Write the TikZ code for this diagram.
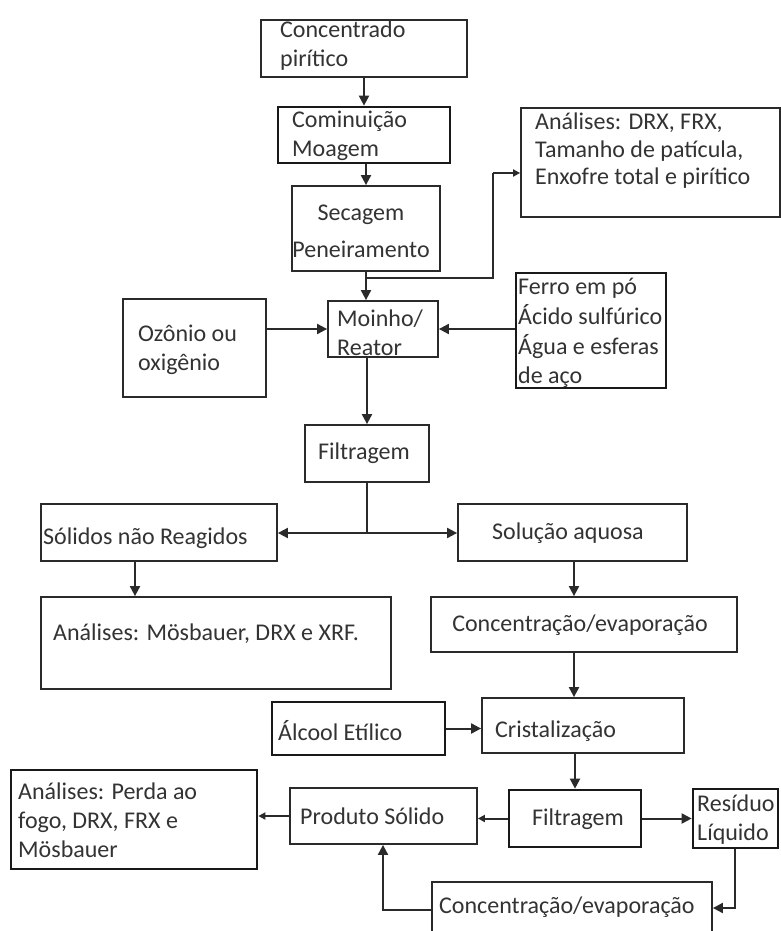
\documentclass[tikz,border=0pt]{standalone}
\usepackage{fontspec}
\setmainfont{Carlito}
\usetikzlibrary{calc,arrows.meta}
\definecolor{txtgray}{HTML}{333333}
\definecolor{linegray}{HTML}{2A2A2A}
\tikzset{
  box/.style={draw=linegray, line width=1.8pt, rectangle, inner sep=0pt},
  thickbox/.style={box, line width=2.7pt, draw=black!90},
  txt/.style={align=left, inner sep=0pt, text=txtgray, font=\fontsize{24}{29}\selectfont},
  ctxt/.style={txt, align=center},
  conn/.style={draw=linegray, line width=2pt},
  arr/.style={conn, -{Triangle[length=10pt,width=10pt]}},
  sarr/.style={conn, -{Triangle[length=7pt,width=7pt]}},
}
\begin{document}
\begin{tikzpicture}[x=1pt,y=-1pt]
\useasboundingbox (0,0) rectangle (781,931);
\clip (0,0) rectangle (781,931);
\fill[white] (0,0) rectangle (781,931);

% boxes
\node[box, minimum width=206pt, minimum height=57pt] (c1) at (364,48.5) {};
\node[thickbox, minimum width=172pt, minimum height=56pt] (c2) at (364,135) {};
\node[box, minimum width=148pt, minimum height=85pt] (c3) at (366,228.5) {};
\node[box, minimum width=259pt, minimum height=109pt] (c4) at (650.5,162.5) {};
\node[box, minimum width=110pt, minimum height=56pt] (c5) at (383,329) {};
\node[box, minimum width=143pt, minimum height=98pt] (c6) at (194.5,348) {};
\node[thickbox, minimum width=150pt, minimum height=115pt] (c7) at (591,330.5) {};
\node[box, minimum width=124pt, minimum height=57pt] (c8) at (367,453.5) {};
\node[box, minimum width=236pt, minimum height=57pt] (c9) at (159,532.5) {};
\node[box, minimum width=350pt, minimum height=92pt] (c10) at (216,643) {};
\node[box, minimum width=229pt, minimum height=57pt] (c11) at (572.5,532.5) {};
\node[box, minimum width=306pt, minimum height=55pt] (c12) at (584,624.5) {};
\node[box, minimum width=202pt, minimum height=55pt] (c13) at (583,725.5) {};
\node[thickbox, minimum width=173pt, minimum height=53pt] (c14) at (358.5,728.5) {};
\node[thickbox, minimum width=132pt, minimum height=57pt] (c15) at (575,818.5) {};
\node[thickbox, minimum width=85pt, minimum height=59pt] (c16) at (735.5,818.5) {};
\node[box, minimum width=187pt, minimum height=56pt] (c17) at (383.5,816) {};
\node[thickbox, minimum width=246pt, minimum height=99pt] (c18) at (134,819.5) {};
\node[box, minimum width=280pt, minimum height=78pt] (c19) at (572,921) {};

% texts
\node[txt, anchor=west] (t1) at (280,46) {Concentrado\\pirítico};
\node[txt, anchor=west] (t2) at (292,136) {Cominuição\\Moagem};
\node[ctxt] (t3) at (361,231) {Secagem\\[8pt]Peneiramento};
\node[txt, anchor=west, font=\fontsize{24}{27.5}\selectfont] (t4) at (535,151) {Análises: DRX, FRX,\\Tamanho de patícula,\\Enxofre total e pirítico};
\node[txt, anchor=west] (t5) at (337,333) {Moinho/\\Reator};
\node[txt, anchor=west] (t6) at (138,350) {Ozônio ou\\oxigênio};
\node[txt, anchor=west, font=\fontsize{24}{29.7}\selectfont] (t7) at (518,333) {Ferro em pó\\Ácido sulfúrico\\Água e esferas\\de aço};
\node[ctxt] (t8) at (364,453) {Filtragem};
\node[txt, anchor=west] (t9) at (43,538) {Sólidos não Reagidos};
\node[txt, anchor=west] (t10) at (53,634) {Análises: Mösbauer, DRX e XRF.};
\node[ctxt] (t11) at (568,533) {Solução aquosa};
\node[ctxt] (t12) at (580,625) {Concentração/evaporação};
\node[txt, anchor=west] (t13) at (495,731) {Cristalização};
\node[txt, anchor=west] (t14) at (278,731) {Álcool Etílico};
\node[ctxt] (t15) at (578,819) {Filtragem};
\node[txt, anchor=west] (t16) at (697,820) {Resíduo\\Líquido};
\node[txt, anchor=west] (t17) at (300,816) {Produto Sólido};
\node[txt, anchor=west] (t18) at (18,820) {Análises: Perda ao\\fogo, DRX, FRX e\\Mösbauer};
\node[txt, anchor=west] (t19) at (439,907) {Concentração/evaporação};

% junction coordinates
\coordinate (j1) at (366,278);
\coordinate (j2) at (493,278);
\coordinate (j3) at (493,173);
\coordinate (j4) at (367,533);
\coordinate (j5) at (135,0);
\coordinate (j6) at (574,0);
\coordinate (j7) at (735,908);
\coordinate (j8) at (383,910);

% connectors
\draw[arr] (c1.south) -- (c2.north);
\draw[arr] (c3.north |- c2.south) -- (c3.north);
\draw[arr] (c3.south) -- (c3.south |- c5.north);
\draw[conn] (j1) -- (j2) -- (j3);
\draw[sarr] (j3) -- (j3 -| c4.west);
\draw[arr] (c6.east |- c5.west) -- (c5.west);
\draw[arr] (c7.west |- c5.east) -- (c5.east);
\draw[arr] (c8.north |- c5.south) -- (c8.north);
\draw[conn] (c8.south) -- (j4);
\draw[arr] (j4) -- (j4 -| c9.east);
\draw[arr] (j4) -- (j4 -| c11.west);
\draw[arr] (j5 |- c9.south) -- (j5 |- c10.north);
\draw[arr] (j6 |- c11.south) -- (j6 |- c12.north);
\draw[arr] (j6 |- c12.south) -- (j6 |- c13.north);
\draw[arr] (c14.east) -- (c14.east -| c13.west);
\draw[arr] (c15.north |- c13.south) -- (c15.north);
\draw[arr] (c15.east) -- (c15.east -| c16.west);
\draw[sarr] (c15.west) -- (c15.west -| c17.east);
\draw[sarr] (c17.west) -- (c17.west -| c18.east);
\draw[arr] (c16.south -| j7) -- (j7) -- (j7 -| c19.east);
\draw[arr] (j8 -| c19.west) -- (j8) -- (c17.south -| j8);
\end{tikzpicture}
\end{document}
